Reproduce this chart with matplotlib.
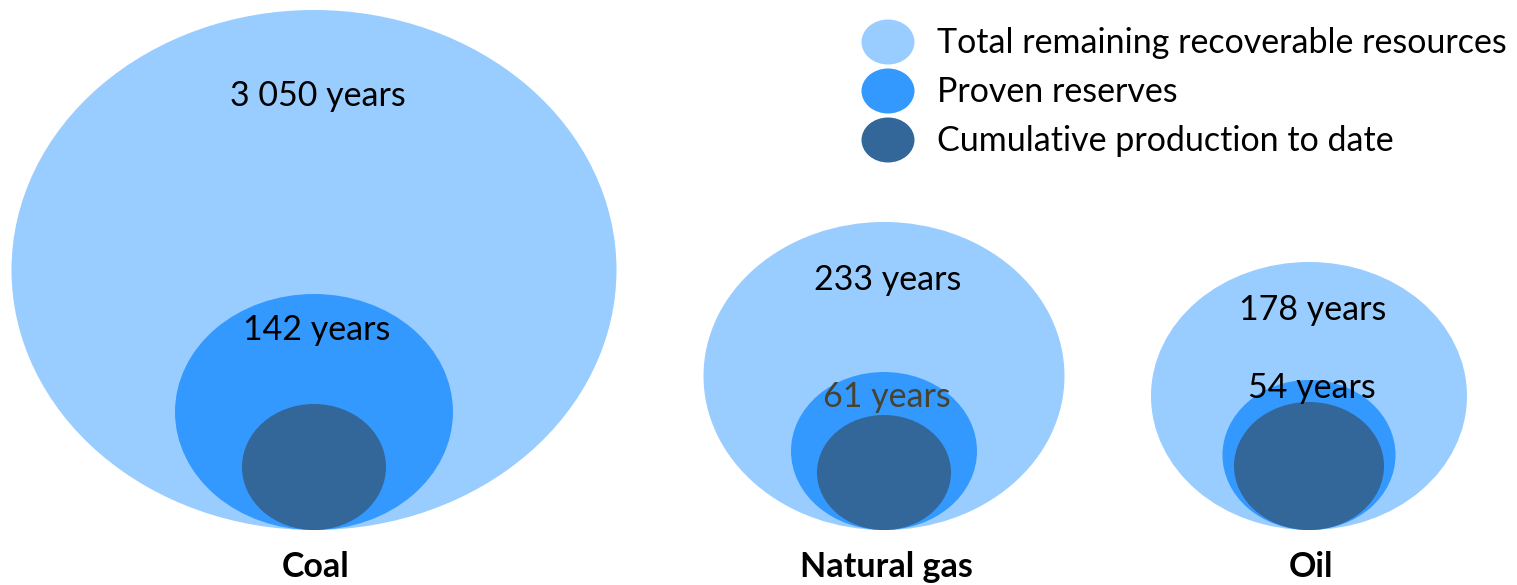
import matplotlib.pyplot as plt
from matplotlib.patches import Ellipse

# Data: ellipse sizes (px-scale units) per fuel, outer to inner
fuels = ["Coal", "Natural gas", "Oil"]
total_w = [605, 361, 316]
total_h = [520, 308, 268]
proven_w = [278, 186, 173]
proven_h = [236, 158, 150]
cumul_w = [144, 134, 150]
cumul_h = [126, 115, 128]
total_years = ["3 050 years", "233 years", "178 years"]
proven_years = ["142 years", "61 years", "54 years"]
legend_labels = ["Total remaining recoverable resources", "Proven reserves",
                 "Cumulative production to date"]

c_total, c_proven, c_cumul = "#99CCFF", "#3399FF", "#336699"

centers_x = [314, 884, 1309]
base_y = 530
total_lbl_y = [96, 280, 310]
proven_lbl_y = [330, 397, 388]
proven_lbl_col = ["black", "#47432f", "black"]
fs = 24.5

plt.rcParams["font.family"] = ["Lato", "DejaVu Sans"]

fig = plt.figure(figsize=(15.17, 5.85), dpi=100)
ax = fig.add_axes([0, 0, 1, 1])
ax.set_xlim(0, 1517)
ax.set_ylim(585, 0)
ax.axis("off")

for i, name in enumerate(fuels):
    cx = centers_x[i]
    for w, h, col in [(total_w[i], total_h[i], c_total),
                      (proven_w[i], proven_h[i], c_proven),
                      (cumul_w[i], cumul_h[i], c_cumul)]:
        ax.add_patch(Ellipse((cx, base_y - h / 2), w, h, color=col, lw=0))
    ax.text(cx + 4, total_lbl_y[i], total_years[i], ha="center", va="center", fontsize=fs)
    ax.text(cx + 3, proven_lbl_y[i], proven_years[i], ha="center", va="center",
            fontsize=fs, color=proven_lbl_col[i])
    ax.text(cx + 2, 567, name, ha="center", va="center", fontsize=fs, fontweight="bold")

# legend
for j, (lab, col) in enumerate(zip(legend_labels, [c_total, c_proven, c_cumul])):
    y = 42 + j * 49
    ax.add_patch(Ellipse((888, y), 53, 45, color=col, lw=0))
    ax.text(937, y + 1, lab, ha="left", va="center", fontsize=fs)

fig.savefig("out.png", dpi=100)
